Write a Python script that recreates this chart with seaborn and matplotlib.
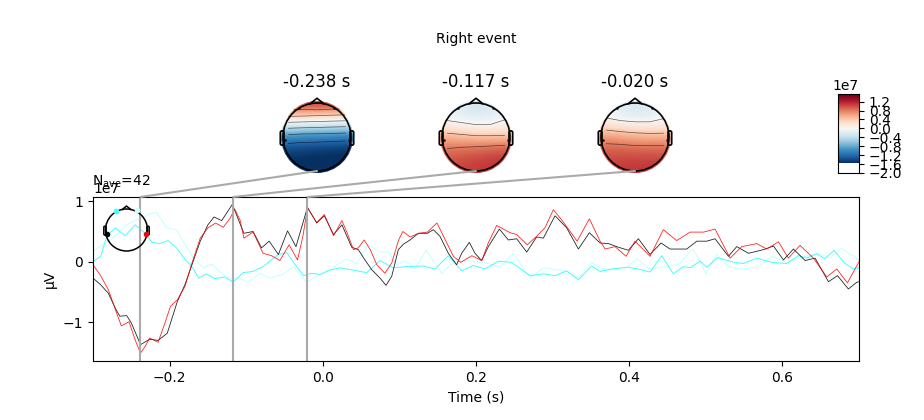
import numpy as np
import matplotlib
matplotlib.use("Agg")
import matplotlib.pyplot as plt
import pandas as pd
import seaborn as sns
from matplotlib.colors import Normalize
from matplotlib.patches import Circle, ConnectionPatch, FancyBboxPatch

# --- Data (time in ms, amplitude in 1e7) ---
red_t = [-300, -290, -280, -270, -263, -253, -245, -238, -232, -226, -215, -206, -199, -190, -180, -170, -160, -150, -140, -130, -121, -115, -108, -103, -91, -78, -67, -56, -44, -33, -26, -20, -8, 2, 14, 25, 32, 40, 46.5, 54, 62, 70.5, 81, 90, 99, 104.5, 114, 125, 136.5, 149, 160, 170.5, 180, 194.5, 207.5, 216, 227, 244.5, 253, 267, 279, 290, 301, 312, 323, 332, 348, 362, 368.5, 381.5, 395.9, 407.6, 427.2, 444.6, 462, 479.4, 496.9, 512.1, 531.7, 546.9, 566.5, 579.6, 594.8, 607.8, 623.1, 640.5, 657.9, 671, 684.9, 700]
red_v = [-0.05, -0.23, -0.46, -0.82, -1.06, -0.99, -1.29, -1.51, -1.40, -1.26, -1.33, -1.01, -0.74, -0.63, -0.41, 0.01, 0.39, 0.56, 0.64, 0.57, 0.72, 0.87, 0.69, 0.39, 0.49, 0.14, 0.10, 0.02, 0.28, 0.03, 0.42, 0.89, 0.65, 0.78, 0.43, 0.68, 0.47, 0.20, 0.23, 0.36, 0.20, -0.05, -0.19, -0.02, 0.36, 0.50, 0.41, 0.47, 0.49, 0.64, 0.36, 0.09, -0.01, 0.10, 0.02, 0.31, 0.60, 0.48, 0.45, 0.28, 0.42, 0.56, 0.86, 0.69, 0.50, 0.34, 0.71, 0.34, 0.21, 0.25, 0.09, 0.34, 0.09, 0.53, 0.35, 0.49, 0.49, 0.54, 0.06, 0.25, 0.30, 0.21, 0.33, 0.06, 0.27, 0.06, -0.25, -0.12, -0.35, 0.0]

black_t = [-300, -290, -280, -270, -265, -256, -250, -238, -226, -215, -203, -190, -180, -170, -160, -150, -142, -132, -118, -110, -103, -91, -80, -70, -58, -46, -35, -20, -8, 2, 14, 25, 37.7, 46.4, 55, 63.8, 74.7, 82.5, 90, 98.6, 105.2, 113.9, 124.8, 136.5, 144.3, 153, 163.9, 174.7, 181.3, 191.3, 198.7, 207.4, 216.1, 230.5, 242.2, 253.1, 266.2, 279.2, 287.9, 303.2, 318.4, 333.7, 348, 362, 372.9, 385.9, 399, 412, 427.2, 441.6, 453.3, 475.1, 488.2, 501.2, 512.1, 529.5, 540.4, 555.7, 575.2, 588.3, 601.4, 614.4, 629.7, 642.7, 660.1, 671.9, 686.2, 697, 700]
black_v = [-0.27, -0.38, -0.52, -0.79, -0.90, -0.89, -1.01, -1.37, -1.28, -1.30, -1.18, -0.66, -0.38, -0.02, 0.34, 0.61, 0.74, 0.68, 0.95, 0.69, 0.47, 0.50, 0.23, 0.34, 0.12, 0.51, 0.25, 0.90, 0.64, 0.76, 0.45, 0.61, 0.24, 0.20, 0.03, -0.13, -0.27, -0.39, -0.24, 0.20, 0.29, 0.36, 0.47, 0.47, 0.53, 0.42, 0.14, -0.05, 0.14, 0.32, 0.14, 0.02, 0.25, 0.54, 0.36, 0.38, 0.16, 0.41, 0.39, 0.76, 0.56, 0.21, 0.48, 0.31, 0.30, 0.24, 0.19, 0.38, 0.12, 0.31, 0.21, 0.21, 0.34, 0.34, 0.38, 0.09, 0.25, 0.14, 0.20, 0.26, 0.03, 0.21, 0.02, 0.06, -0.33, -0.23, -0.45, -0.34, -0.33]

cyan_t = [-300, -290, -282, -271, -258, -245, -232, -223, -213, -202, -191, -180, -171, -162, -152, -141, -128, -117, -104, -91, -78, -58, -47, -36, -25, -15, -4, 9, 22.5, 39.9, 57.3, 74.7, 92.1, 109.5, 131.3, 146.5, 163.9, 181.3, 196.6, 211.8, 229.2, 246.6, 270.5, 287.9, 303.2, 318.4, 333.7, 351.1, 362, 377.2, 396.8, 412, 427.2, 442.4, 457.7, 470.7, 479.4, 492.5, 501.2, 515.1, 533.8, 549, 566.5, 586, 605.6, 620.8, 631.7, 644.7, 655.6, 667.4, 681.7, 692.6, 700]
cyan_v = [0.0, 0.09, 0.42, 0.56, 0.43, 0.61, 0.47, 0.32, 0.30, 0.35, 0.23, 0.04, -0.08, -0.27, -0.20, -0.28, -0.25, -0.34, -0.18, -0.16, -0.08, 0.12, 0.15, -0.05, -0.23, -0.19, -0.21, -0.14, -0.10, -0.14, -0.18, 0.02, -0.10, -0.08, -0.07, -0.12, 0.10, -0.15, -0.06, -0.12, 0.01, -0.01, -0.23, -0.20, -0.23, -0.15, -0.30, -0.07, -0.16, -0.12, -0.09, -0.12, -0.17, 0.10, -0.20, -0.08, -0.10, 0.01, -0.09, 0.07, 0.0, -0.03, 0.06, -0.01, -0.03, 0.10, 0.06, 0.13, 0.05, 0.19, -0.03, -0.12, -0.10]

faint_t = [-300, -290, -280, -269, -256, -243, -228, -217, -204, -191, -180, -169, -156, -145, -132, -121, -110, -97, -82, -69, -52, -38, -21, -8, 9, 31, 44.3, 59.5, 74.7, 85.6, 96.5, 107.4, 120.4, 134.8, 155.3, 172.6, 196.6, 216.1, 231.4, 248.8, 270.5, 287.9, 305.3, 318.4, 333.7, 351.1, 362, 379.4, 394.7, 409.9, 427.2, 442.4, 464.2, 482.9, 492.5, 499.9, 514.3, 529.5, 544.8, 568.7, 586, 605.6, 625.2, 647, 662.2, 676.2, 700]
faint_v = [0.17, 0.26, 0.34, 0.45, 0.61, 0.69, 0.78, 0.82, 0.56, 0.53, 0.28, 0.06, -0.10, -0.04, -0.19, -0.27, -0.27, -0.34, -0.19, -0.27, -0.21, -0.08, -0.34, -0.24, -0.13, 0.05, -0.03, 0.28, 0.16, 0.16, -0.05, 0.02, -0.12, 0.19, -0.19, 0.01, 0.01, -0.03, -0.09, 0.14, -0.27, -0.10, -0.13, -0.16, -0.27, -0.01, -0.10, -0.13, -0.12, 0.05, -0.13, -0.09, -0.05, 0.21, 0.01, -0.20, 0.13, -0.08, -0.12, -0.09, 0.09, -0.01, 0.07, 0.14, 0.06, 0.23, 0.03]

topo_times = [-0.238, -0.117, -0.020]
topo_titles = ["-0.238 s", "-0.117 s", "-0.020 s"]
topo_first = [
    [1.00, 1.00, 1.05, 1.00, 0.95],
    [0.40, 0.38, 0.35, 0.32, 0.30],
    [-0.30, -0.33, -0.35, -0.38, -0.40],
    [-0.95, -1.00, -1.00, -1.02, -1.05],
    [-1.35, -1.38, -1.40, -1.42, -1.45],
    [-1.50, -1.52, -1.55, -1.55, -1.55],
    [-1.55, -1.58, -1.60, -1.60, -1.60],
]
topo_second = [
    [0.10, -0.20, -0.30, -0.25, 0.05],
    [-0.10, -0.15, -0.20, -0.18, -0.05],
    [0.15, 0.10, 0.05, 0.05, 0.10],
    [0.55, 0.50, 0.45, 0.45, 0.45],
    [0.78, 0.80, 0.82, 0.85, 0.88],
    [0.95, 0.98, 1.02, 1.05, 1.08],
    [1.02, 1.05, 1.08, 1.10, 1.12],
]
topo_third = [
    [0.10, -0.15, -0.25, -0.20, 0.05],
    [-0.05, -0.15, -0.20, -0.18, -0.05],
    [0.28, 0.22, 0.18, 0.16, 0.18],
    [0.65, 0.60, 0.55, 0.53, 0.53],
    [0.88, 0.88, 0.85, 0.85, 0.85],
    [1.00, 1.02, 1.02, 1.02, 1.02],
    [1.05, 1.08, 1.10, 1.10, 1.10],
]
contour_levels = [-1.2, -0.8, -0.4, 0.0, 0.4, 0.8]
cbar_ticks = [-2.0, -1.6, -1.2, -0.8, -0.4, 0.0, 0.4, 0.8, 1.2]
sensor_x = [-0.52, 0.50, 0.93, -0.93]
sensor_y = [0.86, 0.86, -0.08, -0.08]

SCALE = 1e7
W, H = 924, 420
cmap = sns.color_palette("RdBu_r", as_cmap=True)
norm = Normalize(-1.54 * SCALE, 1.54 * SCALE)


# --- Helpers ---
def axes_px(fig, left, top, right, bottom):
    return fig.add_axes([left / W, 1 - bottom / H, (right - left) / W, (bottom - top) / H])


def draw_head(ax, lw=1.2):
    ax.add_patch(FancyBboxPatch((0.97, -0.24), 0.11, 0.42, boxstyle="round,pad=0,rounding_size=0.05",
                                fc="none", ec="k", lw=lw))
    ax.add_patch(FancyBboxPatch((-1.08, -0.24), 0.11, 0.42, boxstyle="round,pad=0,rounding_size=0.05",
                                fc="none", ec="k", lw=lw))
    ax.add_patch(Circle((0, 0), 1, fc="none", ec="k", lw=lw))
    ax.plot([-0.2, 0, 0.2], [0.98, 1.14, 0.98], color="k", lw=lw)
    ax.set_xlim(-1.3, 1.3)
    ax.set_ylim(-1.3, 1.3)
    ax.set_aspect("equal")
    ax.axis("off")


def draw_trace(ax, t, v, color, lw, alpha=1.0):
    df = pd.DataFrame({"time": np.array(t) / 1000, "amp": np.array(v) * SCALE})
    sns.lineplot(data=df, x="time", y="amp", estimator=None, sort=False, color=color, lw=lw, alpha=alpha, ax=ax)


# --- Figure ---
fig = plt.figure(figsize=(W / 100, H / 100), dpi=100)

ax = axes_px(fig, 93, 197, 859, 361)
draw_trace(ax, faint_t, faint_v, "#bbffff", 0.6)
draw_trace(ax, cyan_t, cyan_v, "#44ffff", 0.7)
draw_trace(ax, black_t, black_v, "k", 0.6, 0.85)
draw_trace(ax, red_t, red_v, "red", 0.6, 0.85)
ax.set_xlim(-0.3, 0.7)
ax.set_ylim(-1.64 * SCALE, 1.07 * SCALE)
ax.set_yticks([-1 * SCALE, 0, 1 * SCALE])
ax.set_xlabel("Time (s)")
ax.set_ylabel("µV")
ax.text(-0.001, 1.045, r"N$_{\mathrm{ave}}$=42", transform=ax.transAxes, ha="left", va="bottom", fontsize=10)

for t in topo_times:
    ax.axvline(t, color="#aaaaaa", lw=1.5)

# --- Topomaps ---
centers = [317, 476, 635]
for cx, grid, title, t in zip(centers, [topo_first, topo_second, topo_third], topo_titles, topo_times):
    half = 34 * 1.3
    topo = axes_px(fig, cx - half, 137 - half, cx + half, 137 + half)
    values = np.array(grid) * SCALE
    extent = (-1.06, 1.06, -1.06, 1.06)
    im = topo.imshow(values, cmap=cmap, norm=norm, extent=extent, interpolation="bicubic", aspect="equal")
    clip = Circle((0, 0), 1.06, transform=topo.transData)
    im.set_clip_path(clip)
    cs = topo.contour(values, levels=np.array(contour_levels) * SCALE, colors="k", linewidths=0.5,
                      linestyles="solid", alpha=0.6, origin="upper", extent=extent)
    cs.set_clip_path(clip)
    topo.plot(sensor_x, sensor_y, "o", color="k", ms=1, alpha=0.7)
    draw_head(topo)
    topo.set_title(title, fontsize=12, pad=4)
    fig.add_artist(ConnectionPatch(xyA=(t, 1.07 * SCALE), coordsA=ax.transData, xyB=(0, -1),
                                   coordsB=topo.transData, color="#aaaaaa", lw=1.5))

fig.text(476 / W, 1 - 38.5 / H, "Right event", ha="center", va="center", fontsize=10)

# --- Sensor inset ---
half = 21 * 1.3
inset = axes_px(fig, 126.5 - half, 230 - half, 126.5 + half, 230 + half)
inset.patch.set_alpha(0)
inset.plot([-0.51], [0.9], "o", color="#44ffff", ms=3)
inset.plot([0.51], [0.94], "o", color="#ccffff", ms=3)
inset.plot([-0.93], [-0.2], "o", color="k", ms=3)
inset.plot([0.93], [-0.2], "o", color="red", ms=3)
draw_head(inset, lw=1.1)

# --- Colorbar ---
cax = axes_px(fig, 838, 94, 859, 173)
gradient = np.linspace(1.54, -1.54, 256).reshape(-1, 1) * SCALE
cax.imshow(gradient, cmap=cmap, norm=norm, aspect="auto", extent=(0, 1, -1.54 * SCALE, 1.54 * SCALE))
cax.set_xlim(0, 1)
cax.set_ylim(-2.0 * SCALE, 1.54 * SCALE)
cax.set_xticks([])
cax.yaxis.tick_right()
cax.set_yticks(np.array(cbar_ticks) * SCALE)

fig.savefig("out.png", dpi=100)
